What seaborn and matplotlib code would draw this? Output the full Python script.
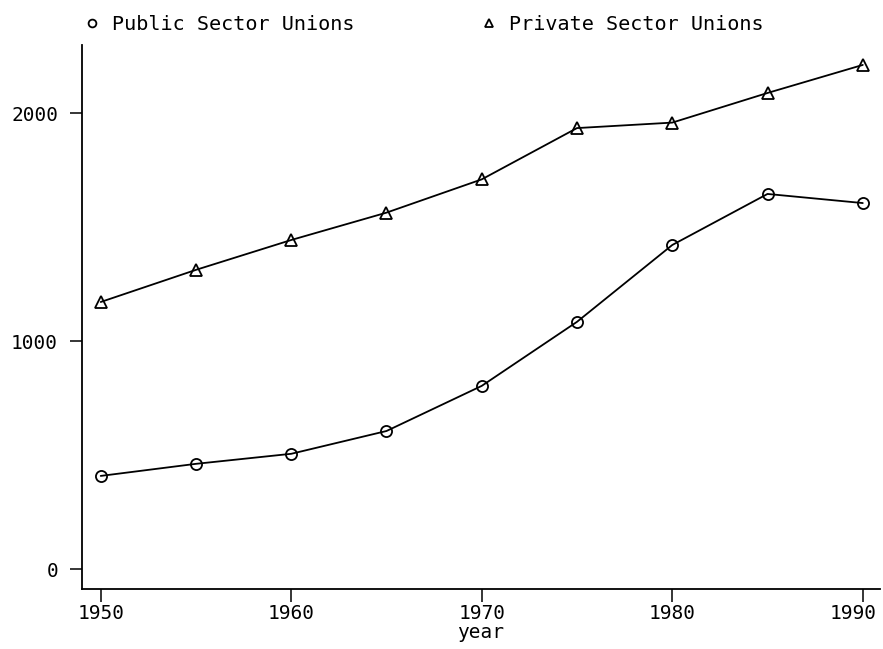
import pandas as pd
import matplotlib.pyplot as plt
import matplotlib.transforms as mtransforms
import seaborn as sns

sns.set_theme(style="ticks")
plt.rcParams["font.family"] = ["DejaVu Sans Mono", "DejaVu Sans"]

years = [1950, 1955, 1960, 1965, 1970, 1975, 1980, 1985, 1990]
public = [410, 463, 507, 607, 805, 1086, 1423, 1647, 1607]
private = [1173, 1314, 1445, 1565, 1711, 1936, 1960, 2090, 2213]
series = ["Public Sector Unions", "Private Sector Unions"]

df = pd.concat([
    pd.DataFrame({"year": years, "members": public, "series": series[0]}),
    pd.DataFrame({"year": years, "members": private, "series": series[1]}),
])

fig = plt.figure(figsize=(8.83, 6.49), dpi=100)
ax = fig.add_axes([0.0925, 0.0925, 0.904, 0.838])

sns.lineplot(data=df, x="year", y="members", hue="series", style="series",
             hue_order=series, style_order=series,
             palette=["black", "black"], markers={series[0]: "o", series[1]: "^"},
             dashes=False, markersize=8, markerfacecolor="none",
             markeredgecolor="black", markeredgewidth=1.3, linewidth=1.3,
             ax=ax, legend=True)

ax.set_xlim(1949.0, 1990.9)
ax.set_ylim(-86, 2300)
ax.set_xticks([1950, 1960, 1970, 1980, 1990])
ax.set_yticks([0, 1000, 2000])
ax.set_xlabel("year", fontsize=14, labelpad=0, color="black")
ax.set_ylabel("")
ax.tick_params(axis="both", direction="out", length=9, width=1.1,
               labelsize=14, color="black", labelcolor="black")
ax.tick_params(axis="y", pad=8)
ax.tick_params(axis="x", pad=2)
sns.despine(ax=ax)
for s in ["left", "bottom"]:
    ax.spines[s].set_color("black")
    ax.spines[s].set_linewidth(1.3)

# last year label sits a bit left so it stays inside the figure
last = ax.get_xticklabels()[-1]
last.set_transform(last.get_transform() +
                   mtransforms.ScaledTranslation(-10 / 100, 0, fig.dpi_scale_trans))

handles, labels = ax.get_legend_handles_labels()
ax.get_legend().remove()
leg = fig.legend(handles, labels, loc="upper left", bbox_to_anchor=(0.074, 1.005),
                 ncol=2, frameon=False, fontsize=14.5, handlelength=0.8,
                 handletextpad=0.6, columnspacing=6.3, markerscale=0.7,
                 labelcolor="black")
for line in leg.get_lines():
    line.set_linestyle("None")

fig.savefig("out.png", dpi=100)
